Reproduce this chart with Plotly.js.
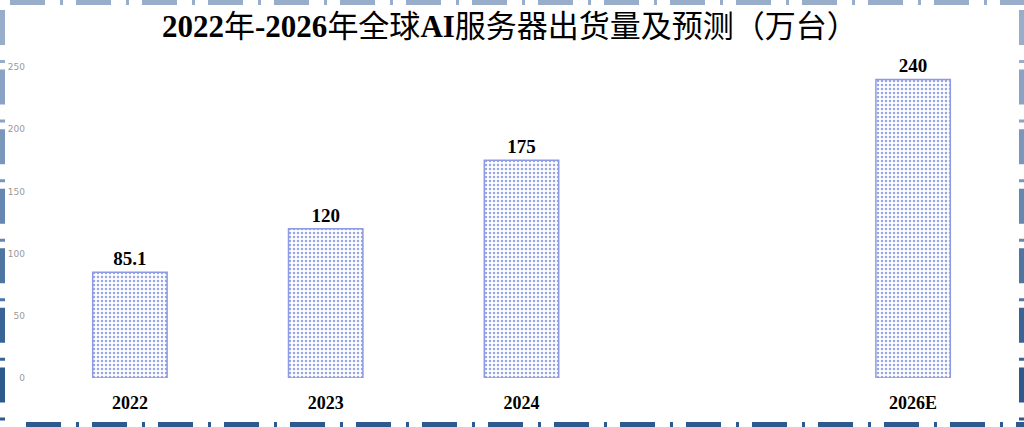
<!DOCTYPE html>
<html>
<head>
<meta charset="utf-8">
<script src="https://cdn.plot.ly/plotly-3.0.1.min.js"></script>
<style>
  html, body { margin: 0; padding: 0; background: #fff; }
  #chart { width: 1024px; height: 427px; }
</style>
</head>
<body>
<div id="chart"></div>
<script>
// data
const years = [2022, 2023, 2024, 2026];
const yearLabels = ['2022', '2023', '2024', '2026E'];
const shipments = [85.1, 120, 175, 240];
const valueLabels = ['85.1', '120', '175', '240'];
const yTicks = [0, 50, 100, 150, 200, 250];

// border colours, top -> bottom
const sideColors = ['#97adca', '#8aa3c4', '#7a96bb', '#6687b0', '#4f75a3', '#3a6496', '#2d598d'];

// plot area in pixels, used to place the frame in paper coords
const W = 1024, H = 427;
const M = { l: 32, r: 13, t: 67, b: 49 };
const pw = W - M.l - M.r, ph = H - M.t - M.b;
const px = x => (x - M.l) / pw;
const py = y => 1 - (y - M.t) / ph;

const serif = '"Liberation Serif", "Times New Roman", "Noto Sans CJK SC", serif';
const dash = '35px,15px,3px,13px';

function frameShapes() {
  const shapes = [];
  const line = (x0, y0, x1, y1, color) => shapes.push({
    type: 'line', xref: 'paper', yref: 'paper',
    x0: px(x0), y0: py(y0), x1: px(x1), y1: py(y1),
    line: { color: color, width: 5, dash: dash }, layer: 'above'
  });
  line(10, 2.5, 1024, 2.5, sideColors[0]);
  line(26, 424.5, 1024, 424.5, sideColors[sideColors.length - 1]);
  const n = sideColors.length;
  const seg = (H - 10) / n;
  sideColors.forEach((c, i) => {
    const y0 = 10 + i * seg, y1 = y0 + seg;
    line(2.5, y0, 2.5, y1, c);
    line(1021.5, y0, 1021.5, y1, c);
  });
  return shapes;
}

const trace = {
  type: 'bar',
  x: years,
  y: shipments,
  width: 0.38,
  text: valueLabels,
  texttemplate: '%{text}',
  textposition: 'outside',
  textangle: 0,
  cliponaxis: false,
  textfont: { family: serif, size: 19, color: '#000', weight: 'bold' },
  marker: {
    color: '#ffffff',
    line: { color: '#8c9be3', width: 1.5 },
    pattern: { shape: '.', fgcolor: '#98a6e6', bgcolor: '#ffffff', size: 4, solidity: 0.3 }
  },
  hoverinfo: 'skip'
};

const layout = {
  width: W, height: H,
  margin: M,
  paper_bgcolor: '#ffffff',
  plot_bgcolor: '#ffffff',
  showlegend: false,
  title: {
    text: '<b>2022</b>年<b>-2026</b>年全球<b>AI</b>服务器出货量及预测（万台）',
    font: { family: serif, size: 31, color: '#000' },
    x: 0.498, xanchor: 'center',
    xref: 'container', yref: 'container',
    y: 1 - 26 / H, yanchor: 'middle'
  },
  xaxis: {
    range: [2021.5, 2026.5],
    tickvals: years,
    ticktext: yearLabels,
    showgrid: false, zeroline: false, showline: false,
    ticks: '',
    ticklabelstandoff: 12,
    tickfont: { family: serif, size: 18, color: '#000', weight: 'bold' }
  },
  yaxis: {
    range: [0, 250],
    tickvals: yTicks,
    showgrid: false, zeroline: false, showline: false,
    ticks: '',
    ticklabelstandoff: 6,
    tickfont: { family: 'DejaVu Sans, sans-serif', size: 9, color: '#9a9a9a' }
  },
  bargap: 0.6,
  shapes: frameShapes()
};

Plotly.newPlot('chart', [trace], layout, { displayModeBar: false, staticPlot: true });
</script>
</body>
</html>
